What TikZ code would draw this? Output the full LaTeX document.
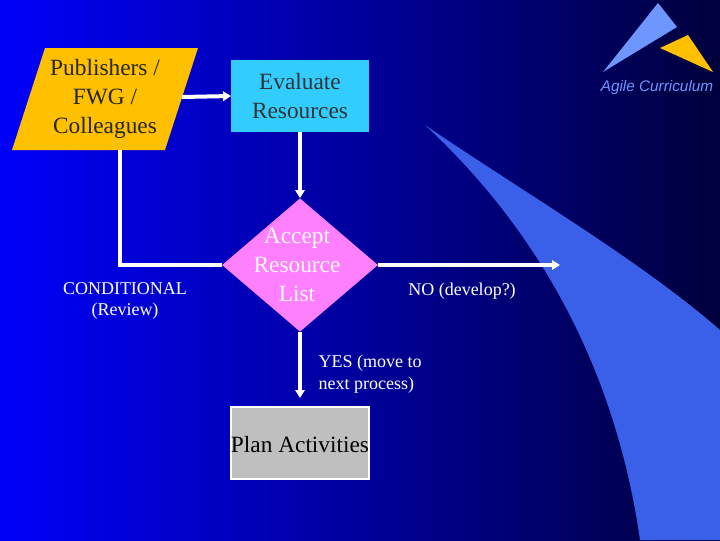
\documentclass[tikz,border=0pt]{standalone}
\usepackage{fontspec}
\setmainfont{Liberation Serif}
\newfontfamily\logofont{Liberation Sans}
\usetikzlibrary{shapes.geometric,arrows.meta}
\definecolor{bgL}{RGB}{0,0,250}
\definecolor{bgR}{RGB}{0,0,60}
\definecolor{swoosh}{RGB}{58,95,232}
\definecolor{yel}{RGB}{255,192,0}
\definecolor{cyanbox}{RGB}{51,204,255}
\definecolor{pinkd}{RGB}{255,128,255}
\definecolor{logob}{RGB}{110,150,255}
\tikzset{
  conn/.style={draw=white,line width=3pt},
  arr/.style={conn,-{Triangle[length=6pt,width=7pt]}},
  lbl/.style={text=white,font=\fontsize{13.5}{16}\selectfont,align=center},
  big/.style={font=\fontsize{17.5}{21.5}\selectfont,align=center}
}
\begin{document}
\begin{tikzpicture}[x=0.75pt,y=-0.75pt]
\useasboundingbox (0,0) rectangle (720,540);
\shade[left color=bgL,right color=bgR] (0,0) rectangle (720,540);
\fill[swoosh] (425,125) .. controls (560,250) and (620,400) .. (640,540) -- (720,540) -- (720,330) .. controls (640,260) and (520,190) .. (425,125) -- cycle;
% logo
\fill[logob] (603,72) -- (658,3) -- (677,27) -- cycle;
\fill[yel] (660,48) -- (688,35) -- (713,72) -- cycle;
\node[text=logob,font=\logofont\itshape\fontsize{11.5}{13}\selectfont] (logo) at (657,88) {Agile Curriculum};
% nodes
\fill[yel] (45,48) -- (198,48) -- (165,150) -- (12,150) -- cycle;
\node[big,text=black!85] (pub) at (105,99) {Publishers /\\FWG /\\Colleagues};
\node[fill=cyanbox,minimum width=103pt,minimum height=54pt,big,text=black!80] (eval) at (300,96) {Evaluate\\Resources};
\node[fill=pinkd,diamond,minimum width=117pt,minimum height=100pt,inner sep=0pt] (acc) at (300,265) {};
\node[big,text=white!85!pink,inner sep=0pt] (acct) at (297,265) {Accept\\Resource\\List};
\node[fill=gray!50,draw=white,line width=1.5pt,minimum width=103pt,minimum height=54pt,inner sep=0pt] (plan) at (300,443) {};
\node[big,inner sep=0pt] (plant) at (300,445) {Plan Activities};
\coordinate (pe) at (182,97);
\coordinate (pd) at (120,150);
\coordinate (corner) at (120,265);
\coordinate (noend) at (560,265);
\coordinate (yesend) at (300,398);
\draw[arr] (pe) -- (eval.west);
\draw[arr] (eval.south) -- (acc.north);
\draw[conn] (pd) -- (corner) -- (acc.west);
\draw[arr] (acc.east) -- (noend);
\draw[arr] (acc.south) -- (yesend);
\node[lbl] (cond) at (125,301) {CONDITIONAL\\(Review)};
\node[lbl] (no) at (462,291) {NO (develop?)};
\node[lbl,align=left,anchor=west] (yes) at (314,374) {YES (move to\\next process)};
\end{tikzpicture}
\end{document}
